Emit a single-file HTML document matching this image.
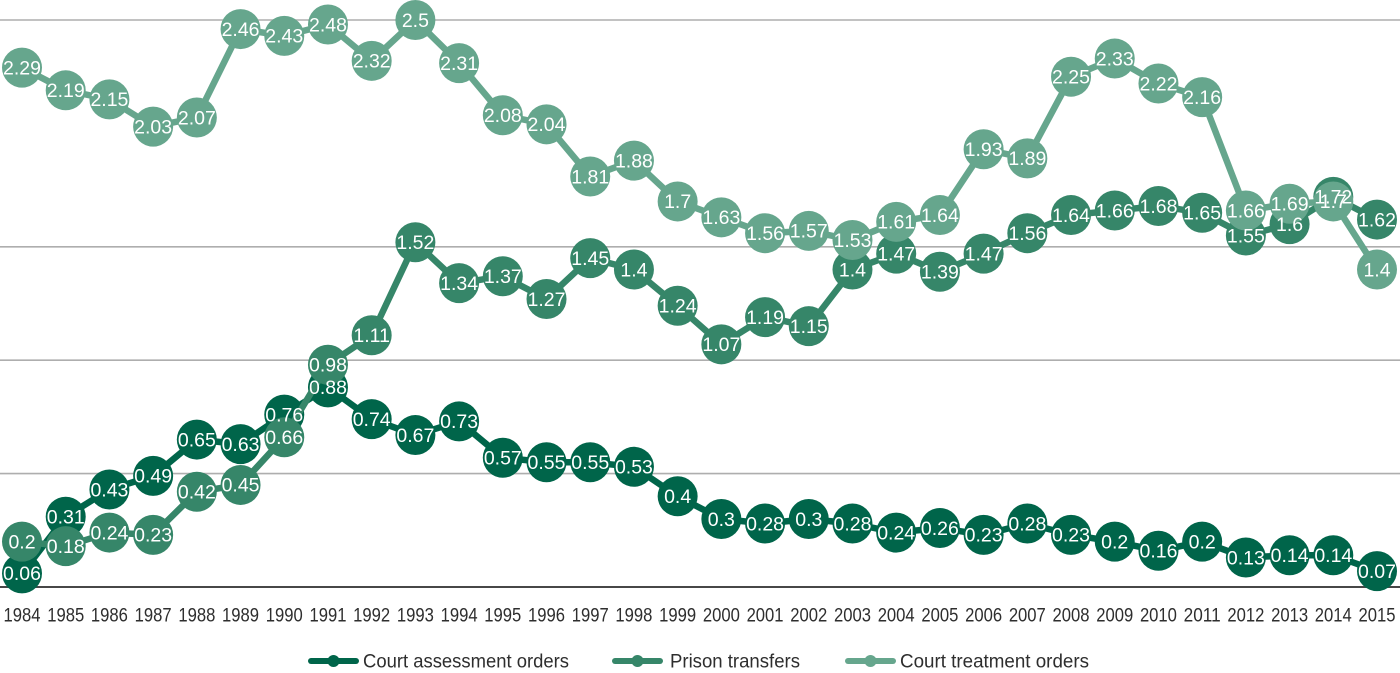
<!DOCTYPE html>
<html lang="en">
<head>
<meta charset="utf-8">
<title>Court orders and prison transfers 1984-2015</title>
<style>
html,body{margin:0;padding:0;background:#fff;}
svg{display:block;font-family:"Liberation Sans",sans-serif;}
</style>
</head>
<body>
<svg id="chart" width="1400" height="673" viewBox="0 0 1400 673" xmlns="http://www.w3.org/2000/svg"></svg>
<script>
const years = ["1984","1985","1986","1987","1988","1989","1990","1991","1992","1993","1994","1995","1996","1997","1998","1999","2000","2001","2002","2003","2004","2005","2006","2007","2008","2009","2010","2011","2012","2013","2014","2015"];
const courtAssessment = [0.06,0.31,0.43,0.49,0.65,0.63,0.76,0.88,0.74,0.67,0.73,0.57,0.55,0.55,0.53,0.4,0.3,0.28,0.3,0.28,0.24,0.26,0.23,0.28,0.23,0.2,0.16,0.2,0.13,0.14,0.14,0.07];
const prisonTransfers = [0.2,0.18,0.24,0.23,0.42,0.45,0.66,0.98,1.11,1.52,1.34,1.37,1.27,1.45,1.4,1.24,1.07,1.19,1.15,1.4,1.47,1.39,1.47,1.56,1.64,1.66,1.68,1.65,1.55,1.6,1.72,1.62];
const courtTreatment = [2.29,2.19,2.15,2.03,2.07,2.46,2.43,2.48,2.32,2.5,2.31,2.08,2.04,1.81,1.88,1.7,1.63,1.56,1.57,1.53,1.61,1.64,1.93,1.89,2.25,2.33,2.22,2.16,1.66,1.69,1.7,1.4];
const gridValues = [0.5,1,1.5,2.5];
const seriesNames = ["Court assessment orders","Prison transfers","Court treatment orders"];

const COLORS = ["#00654a","#368669","#66a68d"];
const NS = "http://www.w3.org/2000/svg";
const svg = document.getElementById("chart");
const allSeries = [courtAssessment, prisonTransfers, courtTreatment];

function x(i){ return 22 + i * (1377 - 22) / (years.length - 1); }
function y(v){ return 587 - v * 226.8; }
function make(tag, attrs){
  const el = document.createElementNS(NS, tag);
  for (const k in attrs) el.setAttribute(k, attrs[k]);
  return el;
}
function slug(s){ return s.toLowerCase().replace(/\s+/g, "-"); }

gridValues.forEach(function(v){
  const line = make("line", {x1:0, x2:1400, y1:y(v), y2:y(v), stroke:"#aeaeae", "stroke-width":1.6});
  
  
  svg.appendChild(line);
});

const baseline = make("line", {x1:0, x2:1400, y1:y(0), y2:y(0), stroke:"#474747", "stroke-width":2});


svg.appendChild(baseline);

years.forEach(function(yr, i){
  const t = make("text", {x:x(i), y:621.5, "text-anchor":"middle", "font-size":19.5, fill:"#2e2e2e", textLength:37, lengthAdjust:"spacingAndGlyphs"});
  t.textContent = yr;
  
  
  svg.appendChild(t);
});

allSeries.forEach(function(values, s){
  const group = make("g", {});
  
  
  const pts = values.map(function(v, i){ return x(i) + "," + y(v); }).join(" ");
  const line = make("polyline", {points:pts, fill:"none", stroke:COLORS[s], "stroke-width":6.5, "stroke-linejoin":"round"});
  
  
  group.appendChild(line);
  values.forEach(function(v, i){
    const c = make("circle", {cx:x(i), cy:y(v), r:20, fill:COLORS[s]});
    
    
    group.appendChild(c);
  });
  svg.appendChild(group);
});

allSeries.forEach(function(values, s){
  values.forEach(function(v, i){
    const t = make("text", {x:x(i), y:y(v) + 6.8, "text-anchor":"middle", "font-size":19.5, fill:"#ffffff"});
    t.textContent = String(v);
    
    
    svg.appendChild(t);
  });
});

const legendLineX = [308,612,845];
const legendTextX = [363,670,900];
const legendTextW = [206,130,189];
seriesNames.forEach(function(name, s){
  const g = make("g", {});
  
  
  const l = make("line", {x1:legendLineX[s] + 3, x2:legendLineX[s] + 48, y1:661, y2:661, stroke:COLORS[s], "stroke-width":6, "stroke-linecap":"round"});
  
  
  g.appendChild(l);
  const c = make("circle", {cx:legendLineX[s] + 25.5, cy:661, r:6, fill:COLORS[s]});
  
  
  g.appendChild(c);
  const t = make("text", {x:legendTextX[s], y:667.5, "font-size":19.5, fill:"#2e2e2e", textLength:legendTextW[s], lengthAdjust:"spacingAndGlyphs"});
  t.textContent = name;
  
  
  g.appendChild(t);
  svg.appendChild(g);
});
</script>
</body>
</html>
